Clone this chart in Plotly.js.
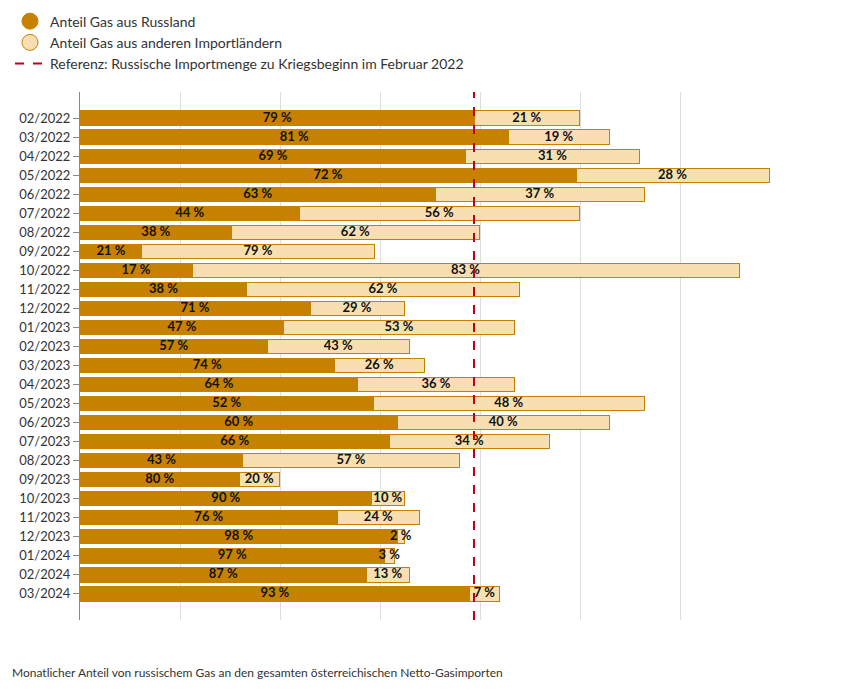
<!DOCTYPE html>
<html>
<head>
<meta charset="utf-8">
<script src="https://cdn.plot.ly/plotly-3.0.1.min.js"></script>
<style>body{margin:0;background:#fff}#chart{width:859px;height:696px}</style>
</head>
<body>
<div id="chart"></div>
<script>
const months = ["02/2022","03/2022","04/2022","05/2022","06/2022","07/2022","08/2022","09/2022","10/2022","11/2022","12/2022",
  "01/2023","02/2023","03/2023","04/2023","05/2023","06/2023","07/2023","08/2023","09/2023","10/2023","11/2023","12/2023",
  "01/2024","02/2024","03/2024"];
// total monthly imports, relative units
const totals = [4.99,5.29,5.59,6.89,5.64,4.99,3.99,2.94,6.59,4.39,3.24,4.34,3.29,3.44,4.34,5.64,5.29,4.69,3.79,1.99,3.24,3.39,3.24,3.14,3.29,4.19];
const shareRussia = [79,81,69,72,63,44,38,21,17,38,71,47,57,74,64,52,60,66,43,80,90,76,98,97,87,93];
const reference = 3.94;

const DARK = "#c78100", LIGHT = "#f7dfb2";
const russia = totals.map((t, i) => t * shareRussia[i] / 100);
const other = totals.map((t, i) => t - russia[i]);

const traces = [
  { type: "bar", orientation: "h", y: months, x: russia, marker: { color: DARK, line: { color: DARK, width: 1 } },
    showlegend: false, hoverinfo: "skip" },
  { type: "bar", orientation: "h", y: months, x: other, marker: { color: LIGHT, line: { color: DARK, width: 1 } },
    showlegend: false, hoverinfo: "skip" },
  { type: "scatter", mode: "text", y: months, x: russia.map(v => v / 2),
    text: shareRussia.map(p => p + " %"), textfont: { family: "Lato", size: 13, color: "#111", weight: "bold" },
    showlegend: false, hoverinfo: "skip" },
  { type: "scatter", mode: "text", y: months, x: russia.map((v, i) => v + other[i] / 2),
    text: shareRussia.map(p => (100 - p) + " %"), textfont: { family: "Lato", size: 13, color: "#111", weight: "bold" },
    showlegend: false, hoverinfo: "skip" },
  { type: "scatter", mode: "markers", x: [null], y: [null], name: "Anteil Gas aus Russland",
    marker: { symbol: "circle", size: 17, color: DARK, line: { color: DARK, width: 1 } } },
  { type: "scatter", mode: "markers", x: [null], y: [null], name: "Anteil Gas aus anderen Importländern",
    marker: { symbol: "circle", size: 17, color: LIGHT, line: { color: DARK, width: 1 } } },
  { type: "scatter", mode: "lines", x: [null], y: [null], name: "Referenz: Russische Importmenge zu Kriegsbeginn im Februar 2022",
    line: { color: "#c0001a", dash: "dash", width: 2 } }
];

const layout = {
  width: 859, height: 696,
  margin: { l: 80, r: 79, t: 92, b: 76 },
  barmode: "stack", bargap: 0.22,
  font: { family: "Lato", size: 13, color: "#333" },
  xaxis: { range: [0, 7], dtick: 1, showticklabels: false, gridcolor: "#ddd", zeroline: false, fixedrange: true },
  yaxis: { type: "category", autorange: "reversed", showline: true, linecolor: "#888", ticks: "outside",
    ticklen: 6, tickcolor: "#888", showgrid: false, tickfont: { size: 13, color: "#333" } },
  legend: { traceorder: "normal", x: -0.1, xanchor: "left", yref: "container", y: 0.992, yanchor: "top",
    font: { size: 14, color: "#333" }, tracegroupgap: 0, itemwidth: 30 },
  shapes: [{ type: "line", xref: "x", yref: "paper", x0: reference, x1: reference, y0: 0, y1: 1.0,
    line: { color: "#c0001a", dash: "dash", width: 2 } }],
  annotations: [{ xref: "paper", yref: "paper", x: -0.1, xanchor: "left", y: -0.1, yanchor: "middle",
    showarrow: false, text: "Monatlicher Anteil von russischem Gas an den gesamten österreichischen Netto-Gasimporten",
    font: { size: 12, color: "#333" } }]
};

Plotly.newPlot("chart", traces, layout, { displayModeBar: false });
</script>
</body>
</html>
